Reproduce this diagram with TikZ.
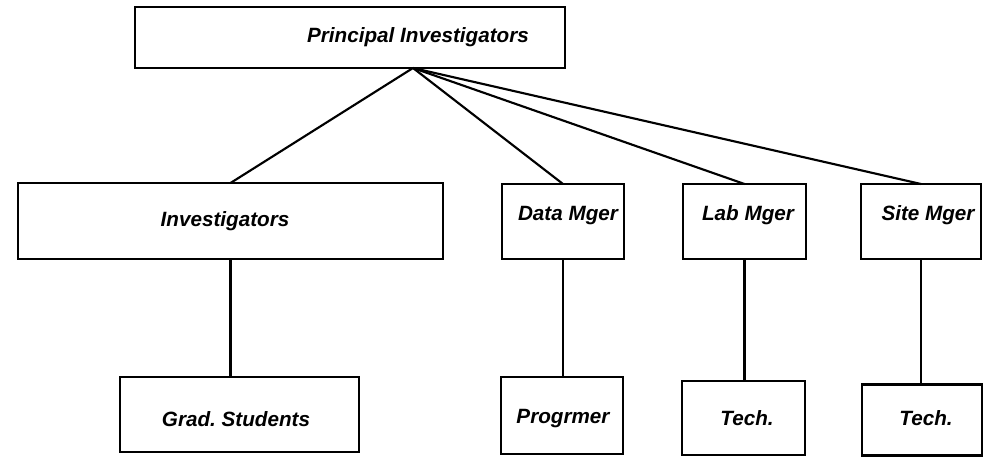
\documentclass[tikz,border=0pt]{standalone}
\usepackage{fontspec}
\setmainfont{Liberation Sans}
\frenchspacing
\begin{document}
\begin{tikzpicture}[x=0.75pt,y=-0.75pt,
  box/.style 2 args={draw, line width=1.6pt, rectangle, inner sep=0pt, outer sep=0pt,
    minimum width=#1*0.75pt, minimum height=#2*0.75pt},
  lbl/.style={inner sep=0pt, font=\fontsize{15.5}{18}\selectfont\bfseries\itshape},
  conn/.style={line width=1.6pt}]
\useasboundingbox (0,0) rectangle (984,457);
% boxes
\node[box={430}{61}] (top) at (350,37.5) {};
\node[box={425}{76}] (inv) at (230.5,221) {};
\node[box={122}{75}] (data) at (563,221.5) {};
\node[box={123}{75}] (lab) at (744.5,221.5) {};
\node[box={120}{75}] (site) at (921,221.5) {};
\node[box={239}{75}] (grad) at (239.5,414.5) {};
\node[box={122}{77}] (prog) at (562,415.5) {};
\node[box={123}{74}] (tech1) at (743.5,418) {};
\node[box={120}{71}] (tech2) at (922,420) {};
% labels
\node[lbl] (tpi) at (418,37) {Principal Investigators};
\node[lbl] (tinv) at (225,221) {Investigators};
\node[lbl] (tdata) at (568,216) {Data Mger};
\node[lbl] (tlab) at (748,215) {Lab Mger};
\node[lbl] (tsite) at (928,215) {Site Mger};
\node[lbl] (tgrad) at (236,419) {Grad.\ Students};
\node[lbl] (tprog) at (563,419) {Progrmer};
\node[lbl] (ttech1) at (747,418) {Tech.};
\node[lbl] (ttech2) at (926,418) {Tech.};
% connectors
\coordinate (hub) at (413,68);
\draw[conn] (hub) -- (inv.north);
\draw[conn] (hub) -- (data.north);
\draw[conn] (hub) -- (lab.north);
\draw[conn] (hub) -- (site.north);
\draw[conn] (inv.south) -- (inv.south |- grad.north);
\draw[conn] (data.south) -- (data.south |- prog.north);
\draw[conn] (lab.south) -- (lab.south |- tech1.north);
\draw[conn] (site.south) -- (site.south |- tech2.north);
\end{tikzpicture}
\end{document}
